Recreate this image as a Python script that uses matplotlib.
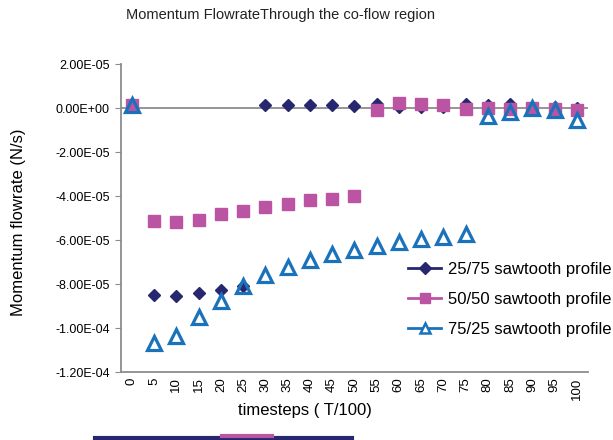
import matplotlib
matplotlib.use("Agg")
import matplotlib.pyplot as plt
from matplotlib.lines import Line2D
from matplotlib.ticker import FuncFormatter
import numpy as np

plt.rcParams['font.family'] = ['Liberation Sans', 'DejaVu Sans']

# timesteps (T/100)
timesteps = [0, 5, 10, 15, 20, 25, 30, 35, 40, 45, 50,
             55, 60, 65, 70, 75, 80, 85, 90, 95, 100]

# momentum flowrate (N/s)
saw_25_75 = [1.5e-06, -8.5e-05, -8.55e-05, -8.4e-05, -8.25e-05, -8.1e-05, 1.5e-06,
             1.4e-06, 1.5e-06, 1.4e-06, 0.8e-06, 1.7e-06, 0.5e-06, 0.5e-06,
             0.5e-06, 1.8e-06, 1.5e-06, 2.0e-06, 0.5e-06, 0.3e-06, 0.0]
saw_50_50 = [1.5e-06, -5.12e-05, -5.2e-05, -5.1e-05, -4.83e-05, -4.7e-05, -4.48e-05,
             -4.36e-05, -4.2e-05, -4.13e-05, -4.0e-05, -1.0e-06, 2.1e-06, 1.7e-06,
             1.2e-06, -0.3e-06, 0.0, -0.5e-06, 0.0, -0.3e-06, -1.0e-06]
saw_75_25 = [1.5e-06, -1.068e-04, -1.036e-04, -9.5e-05, -8.76e-05, -8.1e-05, -7.6e-05,
             -7.24e-05, -6.9e-05, -6.64e-05, -6.45e-05, -6.26e-05, -6.07e-05, -5.95e-05,
             -5.85e-05, -5.74e-05, -3.6e-06, -1.7e-06, -0.1e-06, -0.9e-06, -5.5e-06]

y_ticks = [-12e-05, -10e-05, -8e-05, -6e-05, -4e-05, -2e-05, 0.0, 2e-05]

navy = '#27276f'
pink = '#bb55a3'
blue = '#1a72bb'

fig = plt.figure(figsize=(6.13, 4.4), dpi=100)
ax = fig.add_axes([0.197, 0.1545, 0.762, 0.7])
x = np.arange(len(timesteps))

ax.axhline(0, color='#8c8c8c', lw=1.3, zorder=1)

ax.plot(x, saw_25_75, ls='none', marker='D', ms=6.5, color=navy, zorder=3,
        label='25/75 sawtooth profile')
ax.plot(x, saw_50_50, ls='none', marker='s', ms=8, color=pink, zorder=4,
        label='50/50 sawtooth profile')
ax.plot(x, saw_75_25, ls='none', marker='^', ms=9.5, mfc='none', mec=blue, mew=2.3,
        zorder=5, label='75/25 sawtooth profile')

ax.set_xlim(-0.5, len(timesteps) - 0.5)
ax.set_ylim(-1.2e-04, 2.0e-05)
ax.set_yticks(y_ticks)
ax.yaxis.set_major_formatter(FuncFormatter(lambda v, p: f"{v:.2E}".replace('-0.00', '0.00')))
ax.set_xticks(x)
ax.set_xticklabels([str(t) for t in timesteps], rotation=90, fontsize=9.5)
ax.tick_params(axis='y', labelsize=9, length=4, color='#8c8c8c', pad=4)
ax.tick_params(axis='x', length=0, pad=4)

for s in ['top', 'right']:
    ax.spines[s].set_visible(False)
for s in ['left', 'bottom']:
    ax.spines[s].set_color('#8c8c8c')
    ax.spines[s].set_linewidth(1.3)

fig.text(281 / 613, 1 - 15 / 440, 'Momentum FlowrateThrough the co-flow region',
         fontsize=10.5, ha='center', va='center', color='#222222')
fig.text(305 / 613, 1 - 410 / 440, 'timesteps ( T/100)', fontsize=12,
         ha='center', va='center')
fig.text(19 / 613, 1 - 222 / 440, 'Momentum flowrate (N/s)', fontsize=12,
         ha='center', va='center', rotation=90)

h = [Line2D([0], [0], color=navy, marker='D', ms=6, lw=2),
     Line2D([0], [0], color=pink, marker='s', ms=7, lw=2),
     Line2D([0], [0], color=blue, marker='^', ms=7, mfc='white', mew=1.8, lw=2)]
fig.legend(h, ['25/75 sawtooth profile', '50/50 sawtooth profile', '75/25 sawtooth profile'],
           loc='upper left', bbox_to_anchor=(408 / 613, 1 - 262 / 440), frameon=False,
           fontsize=12, handlelength=2.0, handletextpad=0.4, labelspacing=0.9,
           borderpad=0, borderaxespad=0)

# cut-off strip at the bottom edge of the original image
fig.add_artist(Line2D([95 / 613, 352 / 613], [0.004, 0.004], color=navy, lw=3,
                      transform=fig.transFigure))
fig.add_artist(Line2D([222 / 613, 272 / 613], [0.008, 0.008], color=pink, lw=3,
                      transform=fig.transFigure))

fig.savefig('out.png', dpi=100)
